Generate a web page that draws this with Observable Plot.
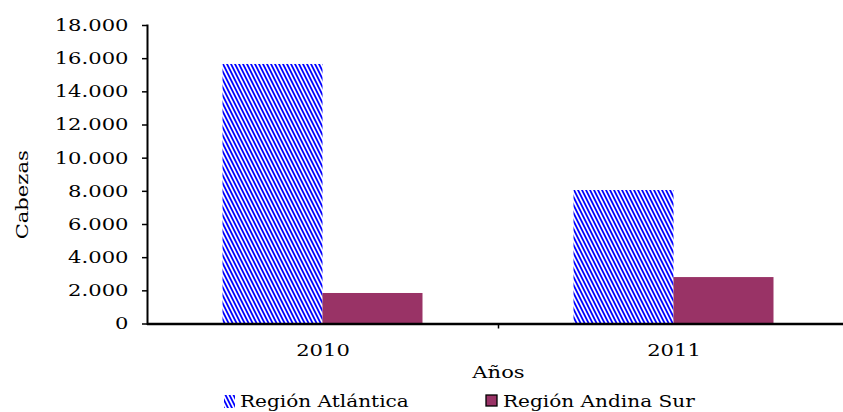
<!DOCTYPE html>
<html>
<head>
<meta charset="utf-8">
<script src="https://cdn.jsdelivr.net/npm/d3@7"></script>
<script src="https://cdn.jsdelivr.net/npm/@observablehq/plot@0.6"></script>
<style>
  body { margin: 0; background: #fff; }
  #chart { position: relative; width: 843px; }
  .legend { display: flex; height: 27px; align-items: center; font-family: "DejaVu Serif", serif; font-size: 17px; color: #000; }
  .legend .item { display: flex; align-items: center; position: absolute; top: 6px; }
  .legend .item span { display: inline-block; transform: scaleX(1.18); transform-origin: left center; }
</style>
</head>
<body>
<div id="chart"></div>
<script>
const years = ["2010", "2011"];
const seriesNames = ["Región Atlántica", "Región Andina Sur"];
const atlantica = [15650, 8050];
const andinaSur = [1840, 2800];
const yTicks = [0, 2000, 4000, 6000, 8000, 10000, 12000, 14000, 16000, 18000];
const xLabel = "Años";
const yLabel = "Cabezas";

const purple = "#993366";
const blue = "#0000ff";

const dataA = years.map((y, i) => ({year: y, value: atlantica[i], series: seriesNames[0]}));
const dataB = years.map((y, i) => ({year: y, value: andinaSur[i], series: seriesNames[1]}));

const esLocale = d3.formatLocale({decimal: ",", thousands: ".", grouping: [3], currency: ["", ""]});
const fmt = esLocale.format(",");

const W = 843, H = 385;
const mL = 147, mR = -6, mT = 25, mB = 61.5;
const band = (W - mR - mL) / years.length;
const barW = 100;

const defs = () => {
  const d = d3.create("svg:defs");
  const p = d.append("pattern").attr("id", "stripes").attr("patternUnits", "userSpaceOnUse")
    .attr("width", 4).attr("height", 8);
  p.append("rect").attr("width", 4).attr("height", 8).attr("fill", "#fff");
  p.append("path").attr("d", "M0,0L2,0L6,8L4,8Z M-4,0L-2,0L2,8L0,8Z").attr("fill", blue);
  return d.node();
};

const font = "DejaVu Serif";
const fs = 17;

const plot = Plot.plot({
  width: W,
  height: H,
  marginLeft: mL,
  marginRight: mR,
  marginTop: mT,
  marginBottom: mB,
  style: {fontFamily: font, fontSize: fs + "px", color: "#000", background: "#fff", overflow: "visible"},
  x: {type: "band", domain: years, padding: 0, label: null},
  y: {domain: [0, 18000], label: null},
  marks: [
    defs,
    Plot.barY(dataA, {x: "year", y: "value", fill: "url(#stripes)", dx: -barW / 2,
      insetLeft: (band - barW) / 2, insetRight: (band - barW) / 2}),
    Plot.barY(dataB, {x: "year", y: "value", fill: purple, dx: barW / 2,
      insetLeft: (band - barW) / 2, insetRight: (band - barW) / 2}),
    Plot.axisY({ticks: yTicks, tickFormat: fmt, tickSize: 5, tickPadding: 14, strokeWidth: 1.5,
      fontSize: fs, label: null}),
    Plot.frame({anchor: "left", strokeWidth: 2}),
    Plot.ruleY([0], {strokeWidth: 2.5}),
    Plot.axisX({tickSize: 0, tickPadding: 20, fontSize: fs, label: null}),
    Plot.ruleX(years.slice(0, -1), {x: d => d, dx: band / 2, y1: 0, y2: 0, insetBottom: -5, strokeWidth: 1.5}),
    Plot.text([xLabel], {frameAnchor: "bottom", dy: 54, fontSize: fs, text: d => d}),
    Plot.text([yLabel], {frameAnchor: "left", textAnchor: "middle", dx: -125, dy: 20, rotate: -90, fontSize: fs, text: d => d})
  ]
});
document.getElementById("chart").appendChild(plot);

// widen glyphs to mimic the wide serif face of the original
d3.select(plot).selectAll("text").each(function() {
  const len = this.getComputedTextLength();
  if (len > 0) {
    this.setAttribute("textLength", (len * 1.24).toFixed(1));
    this.setAttribute("lengthAdjust", "spacingAndGlyphs");
  }
});

// legend
const legend = document.createElement("div");
legend.className = "legend";
legend.style.position = "relative";
const items = [
  {name: seriesNames[0], left: 224, swatch: `<svg width="12" height="14" style="margin-right:4px"><defs><pattern id="lg" patternUnits="userSpaceOnUse" width="4" height="8"><path d="M0,0L2,0L6,8L4,8Z M-4,0L-2,0L2,8L0,8Z" fill="${blue}"/></pattern></defs><rect x="0" y="1" width="11" height="13" fill="url(#lg)"/></svg>`},
  {name: seriesNames[1], left: 485, swatch: `<svg width="14" height="14" style="margin-right:4px"><rect x="1" y="1" width="11" height="11" fill="${purple}" stroke="#000" stroke-width="1.3"/></svg>`}
];
items.forEach(it => {
  const el = document.createElement("div");
  el.className = "item";
  el.style.left = it.left + "px";
  el.innerHTML = it.swatch + `<span>${it.name}</span>`;
  legend.appendChild(el);
});
document.getElementById("chart").appendChild(legend);
</script>
</body>
</html>
